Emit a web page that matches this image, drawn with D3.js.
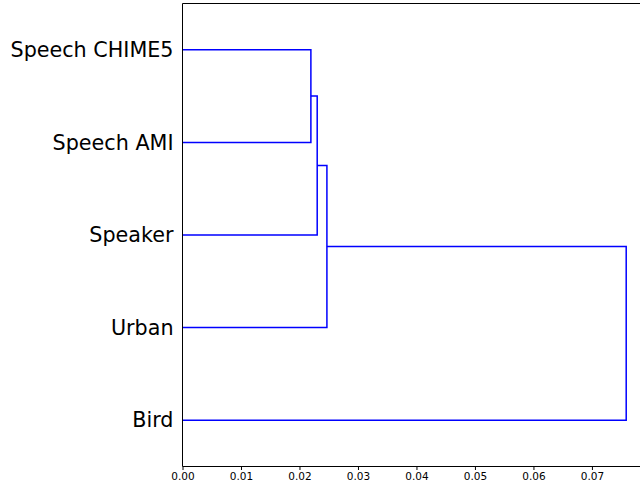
<!DOCTYPE html>
<html><head><meta charset="utf-8">
<script src="https://cdn.jsdelivr.net/npm/d3@7"></script>
<style>html,body{margin:0;padding:0;background:#fff;}svg{display:block;}</style>
</head><body>
<svg id="c" width="640" height="486"></svg>
<script>
// leaves, top to bottom
const leaves = ["Speech CHIME5", "Speech AMI", "Speaker", "Urban", "Bird"];
// merges: children are leaf indices (0..4) or cluster ids (5+)
const mergeA = [0, 5, 6, 7];
const mergeB = [1, 2, 3, 4];
const mergeDist = [0.02195, 0.02303, 0.02469, 0.07586];
const xTicks = [0, 0.01, 0.02, 0.03, 0.04, 0.05, 0.06, 0.07];

const svg = d3.select("#c");
const mLeft = 182.5, mTop = 3.5, mBottom = 466.5;
const x = d3.scaleLinear().domain([0, 0.08]).range([mLeft, mLeft + 0.08 * 5849]);
const y = d3.scaleLinear().domain([0, 50]).range([mTop, mBottom]);

// positions of nodes
const nodeY = leaves.map((d, i) => 5 + 10 * i);
const nodeH = leaves.map(() => 0);
const links = [];
mergeA.forEach((a, i) => {
  const b = mergeB[i], h = mergeDist[i];
  const ya = nodeY[a], yb = nodeY[b];
  links.push([[nodeH[a], ya], [h, ya], [h, yb], [nodeH[b], yb]]);
  nodeY.push((ya + yb) / 2);
  nodeH.push(h);
});

const line = d3.line().x(d => x(d[0])).y(d => y(d[1]));
svg.append("g").selectAll("path").data(links).join("path")
  .attr("d", line).attr("fill", "none").attr("stroke", "#0000ff").attr("stroke-width", 1.5);

// spines
svg.append("line").attr("x1", mLeft).attr("x2", 640).attr("y1", mTop).attr("y2", mTop).attr("stroke", "#000").attr("stroke-width", 1);
svg.append("line").attr("x1", mLeft).attr("x2", mLeft).attr("y1", mTop).attr("y2", mBottom).attr("stroke", "#000").attr("stroke-width", 1);

// x axis
const xAxis = d3.axisBottom(x).tickValues(xTicks).tickFormat(d3.format(".2f")).tickSizeOuter(0).tickSize(3.5).tickPadding(3);
const gx = svg.append("g").attr("transform", `translate(0,${mBottom})`).call(xAxis);
gx.select(".domain").attr("d", `M${mLeft},0H640`).attr("stroke", "#000");
gx.selectAll("text").attr("font-family", "DejaVu Sans").attr("font-size", 10.5).attr("fill", "#000");
gx.selectAll("line").attr("stroke", "#000");

// y axis leaf labels
const yAxis = d3.axisLeft(y).tickValues(nodeY.slice(0, leaves.length)).tickFormat((d, i) => leaves[i]).tickSize(0).tickPadding(9);
const gy = svg.append("g").attr("transform", `translate(${mLeft},0)`).call(yAxis);
gy.select(".domain").remove();
gy.selectAll("text").attr("font-family", "DejaVu Sans").attr("font-size", 20.7).attr("fill", "#000");
</script>
</body></html>
